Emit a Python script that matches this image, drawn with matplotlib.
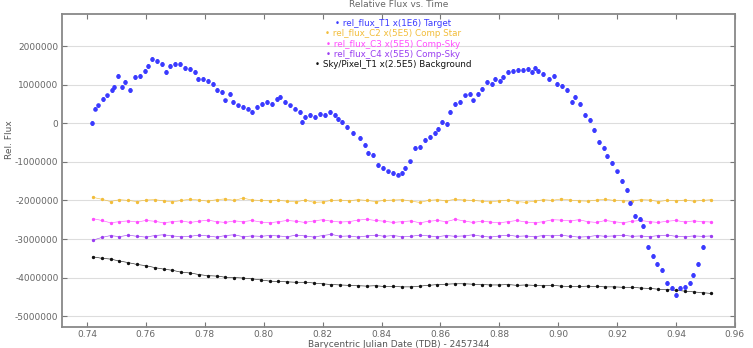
import numpy as np
import matplotlib
matplotlib.use("Agg")
import matplotlib.pyplot as plt

# target star (values in units of 1e6)
blue_time = [0.7416, 0.7427, 0.7438, 0.7455, 0.7467, 0.7484, 0.7490, 0.7506, 0.7518, 0.7530,
             0.7546, 0.7563, 0.7580, 0.7597, 0.7608, 0.7620, 0.7637, 0.7654, 0.7668, 0.7682,
             0.7699, 0.7716, 0.7733, 0.7750, 0.7767, 0.7778, 0.7795, 0.7812, 0.7829, 0.7840,
             0.7857, 0.7869, 0.7886, 0.7897, 0.7914, 0.7931, 0.7948, 0.7959, 0.7976, 0.7993,
             0.8010, 0.8027, 0.8044, 0.8055, 0.8072, 0.8089, 0.8106, 0.8123, 0.8129, 0.8140,
             0.8157, 0.8174, 0.8191, 0.8208, 0.8225, 0.8242, 0.8253, 0.8265, 0.8282, 0.8304,
             0.8327, 0.8344, 0.8355, 0.8372, 0.8389, 0.8406, 0.8423, 0.8440, 0.8457, 0.8469,
             0.8480, 0.8497, 0.8514, 0.8530, 0.8548, 0.8565, 0.8582, 0.8593, 0.8604, 0.8622,
             0.8633, 0.8650, 0.8667, 0.8684, 0.8701, 0.8712, 0.8729, 0.8740, 0.8757, 0.8774,
             0.8786, 0.8803, 0.8814, 0.8831, 0.8848, 0.8865, 0.8882, 0.8899, 0.8910, 0.8922,
             0.8933, 0.8950, 0.8967, 0.8984, 0.8995, 0.9012, 0.9029, 0.9046, 0.9058, 0.9075,
             0.9092, 0.9108, 0.9120, 0.9137, 0.9154, 0.9165, 0.9182, 0.9199, 0.9216, 0.9233,
             0.9244, 0.9261, 0.9278, 0.9289, 0.9306, 0.9323, 0.9335, 0.9352, 0.9369, 0.9386,
             0.9400, 0.9414, 0.9431, 0.9446, 0.9459, 0.9476, 0.9493]
blue_flux = [0.00, 0.38, 0.46, 0.63, 0.72, 0.85, 0.93, 1.23, 0.93, 1.06,
             0.85, 1.19, 1.23, 1.36, 1.49, 1.66, 1.62, 1.53, 1.32, 1.49,
             1.53, 1.53, 1.44, 1.40, 1.32, 1.15, 1.15, 1.10, 1.02, 0.85,
             0.80, 0.59, 0.76, 0.55, 0.46, 0.42, 0.38, 0.29, 0.42, 0.50,
             0.55, 0.50, 0.63, 0.67, 0.55, 0.46, 0.38, 0.29, 0.03, 0.16,
             0.21, 0.16, 0.25, 0.21, 0.29, 0.21, 0.12, 0.03, -0.09, -0.26,
             -0.39, -0.56, -0.78, -0.82, -1.08, -1.16, -1.25, -1.29, -1.33, -1.29,
             -1.16, -0.99, -0.65, -0.61, -0.44, -0.35, -0.26, -0.14, 0.03, -0.01,
             0.29, 0.50, 0.55, 0.72, 0.76, 0.59, 0.76, 0.89, 1.06, 1.02,
             1.15, 1.10, 1.19, 1.32, 1.36, 1.38, 1.38, 1.40, 1.32, 1.44,
             1.36, 1.27, 1.15, 1.23, 1.02, 0.97, 0.85, 0.55, 0.67, 0.50,
             0.21, 0.08, -0.18, -0.48, -0.65, -0.86, -1.03, -1.25, -1.50, -1.72,
             -2.06, -2.40, -2.49, -2.66, -3.21, -3.43, -3.64, -3.81, -4.15, -4.28,
             -4.44, -4.28, -4.24, -4.15, -3.94, -3.64, -3.21]

comp_time = [0.742, 0.745, 0.748, 0.751, 0.754, 0.757, 0.760, 0.763, 0.766, 0.769,
             0.772, 0.775, 0.778, 0.781, 0.784, 0.787, 0.790, 0.793, 0.796, 0.799,
             0.802, 0.805, 0.808, 0.811, 0.814, 0.817, 0.820, 0.823, 0.826, 0.829,
             0.832, 0.835, 0.838, 0.841, 0.844, 0.847, 0.850, 0.853, 0.856, 0.859,
             0.862, 0.865, 0.868, 0.871, 0.874, 0.877, 0.880, 0.883, 0.886, 0.889,
             0.892, 0.895, 0.898, 0.901, 0.904, 0.907, 0.910, 0.913, 0.916, 0.919,
             0.922, 0.925, 0.928, 0.931, 0.934, 0.937, 0.940, 0.943, 0.946, 0.949,
             0.952]
c2_flux = [-1.92, -1.97, -2.03, -1.98, -2.00, -2.03, -1.99, -1.98, -2.01, -2.04,
           -2.00, -1.97, -1.99, -2.02, -1.98, -1.96, -2.00, -1.94, -1.99, -2.00,
           -2.01, -2.00, -2.02, -2.04, -1.99, -2.05, -2.04, -2.00, -1.99, -2.01,
           -1.98, -2.00, -2.03, -2.00, -1.99, -1.98, -2.02, -2.05, -2.00, -1.98,
           -2.01, -1.97, -1.99, -2.00, -2.02, -2.04, -2.01, -1.99, -2.03, -2.05,
           -2.02, -1.98, -2.00, -1.96, -1.99, -2.01, -2.02, -1.99, -1.97, -2.00,
           -2.01, -2.02, -1.98, -1.99, -2.03, -2.00, -2.01, -1.99, -2.02, -2.00,
           -1.98]
c3_flux = [-2.47, -2.52, -2.58, -2.55, -2.53, -2.56, -2.52, -2.54, -2.58, -2.55,
           -2.53, -2.57, -2.54, -2.51, -2.55, -2.57, -2.53, -2.55, -2.52, -2.56,
           -2.58, -2.55, -2.52, -2.54, -2.57, -2.53, -2.50, -2.54, -2.56, -2.55,
           -2.51, -2.49, -2.52, -2.54, -2.57, -2.55, -2.53, -2.58, -2.54, -2.52,
           -2.55, -2.49, -2.53, -2.57, -2.54, -2.56, -2.58, -2.55, -2.52, -2.56,
           -2.58, -2.55, -2.50, -2.51, -2.53, -2.50, -2.55, -2.57, -2.52, -2.55,
           -2.58, -2.54, -2.52, -2.55, -2.57, -2.54, -2.52, -2.56, -2.53, -2.55,
           -2.56]
c4_flux = [-3.03, -2.96, -2.91, -2.94, -2.90, -2.93, -2.95, -2.91, -2.89, -2.92,
           -2.94, -2.93, -2.90, -2.92, -2.95, -2.91, -2.89, -2.94, -2.92, -2.93,
           -2.91, -2.92, -2.94, -2.90, -2.92, -2.95, -2.91, -2.88, -2.93, -2.92,
           -2.95, -2.92, -2.90, -2.93, -2.91, -2.94, -2.93, -2.90, -2.92, -2.94,
           -2.91, -2.93, -2.92, -2.89, -2.93, -2.95, -2.92, -2.90, -2.93, -2.92,
           -2.94, -2.91, -2.92, -2.90, -2.93, -2.95, -2.94, -2.91, -2.93, -2.92,
           -2.90, -2.93, -2.92, -2.94, -2.91, -2.90, -2.93, -2.94, -2.92, -2.93,
           -2.92]
sky_flux = [-3.46, -3.50, -3.52, -3.57, -3.61, -3.66, -3.69, -3.74, -3.78, -3.81,
            -3.86, -3.88, -3.92, -3.95, -3.96, -3.99, -4.00, -4.01, -4.03, -4.06,
            -4.09, -4.10, -4.11, -4.12, -4.12, -4.14, -4.16, -4.18, -4.19, -4.20,
            -4.21, -4.22, -4.21, -4.23, -4.23, -4.24, -4.24, -4.22, -4.20, -4.18,
            -4.17, -4.16, -4.16, -4.17, -4.18, -4.19, -4.19, -4.18, -4.20, -4.19,
            -4.20, -4.21, -4.20, -4.22, -4.23, -4.23, -4.22, -4.23, -4.24, -4.24,
            -4.25, -4.25, -4.27, -4.28, -4.30, -4.31, -4.33, -4.35, -4.37, -4.39,
            -4.41]

labels = ["rel_flux_T1 x(1E6) Target",
          "rel_flux_C2 x(5E5) Comp Star",
          "rel_flux_C3 x(5E5) Comp-Sky",
          "rel_flux_C4 x(5E5) Comp-Sky",
          "Sky/Pixel_T1 x(2.5E5) Background"]
colors = ["#3a3aff", "#f2bd3a", "#ff4dff", "#9a3cf0", "#111111"]

fig = plt.figure(figsize=(7.53, 3.48), dpi=100)
ax = fig.add_axes([0.0823, 0.0603, 0.8937, 0.8995])

scale = 1e6
ax.errorbar(blue_time, np.array(blue_flux) * scale, yerr=0.05 * scale, fmt="o",
            ms=2.3, color=colors[0], elinewidth=0.6, capsize=1, capthick=0.6, zorder=5)
for vals, col in zip([c2_flux, c3_flux, c4_flux, sky_flux], colors[1:]):
    ax.plot(comp_time, np.array(vals) * scale, "-o", color=col, ms=1.4, lw=0.4, zorder=4)

ax.set_xlim(0.7315, 0.96)
ax.set_ylim(-5.28e6, 2.83e6)
ax.set_xticks(np.arange(0.74, 0.961, 0.02))
ax.set_xticklabels(["%.2f" % v for v in np.arange(0.74, 0.961, 0.02)])
ax.set_yticks([2e6, 1e6, 0, -1e6, -2e6, -3e6, -4e6, -5e6])
ax.set_yticklabels(["2000000", "1000000", "0", "-1000000", "-2000000",
                    "-3000000", "-4000000", "-5000000"])
ax.tick_params(direction="in", top=True, right=True, labelsize=6.5,
               labelcolor="#666666", color="#777777", pad=2.5)
ax.grid(axis="y", color="#dddddd", lw=0.8)
ax.set_axisbelow(True)
for s in ax.spines.values():
    s.set_color("#888888")
    s.set_linewidth(1.3)

ax.set_xlabel("Barycentric Julian Date (TDB) - 2457344", fontsize=6.5, color="#555555", labelpad=0.5)
ax.set_ylabel("Rel. Flux", fontsize=6.5, color="#555555")
ax.yaxis.set_label_coords(-0.072, 0.6)

fig.text(0.53, 0.986, "Relative Flux vs. Time", fontsize=6.5, color="#666666",
         ha="center", va="center")

for i, (lab, col) in enumerate(zip(labels, colors)):
    ax.text(0.492, 0.97 - i * 0.033, "\u2022 " + lab, transform=ax.transAxes,
            fontsize=6.3, color=col, ha="center", va="center")

fig.savefig("out.png", dpi=100)
